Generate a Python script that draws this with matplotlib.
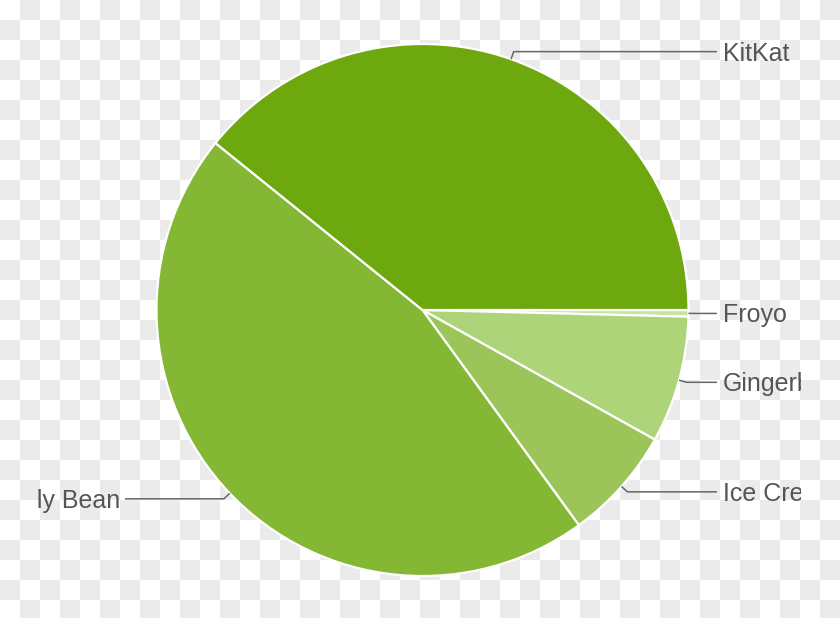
import numpy as np
import matplotlib
matplotlib.use("Agg")
import matplotlib.pyplot as plt
from matplotlib.transforms import Bbox, TransformedBbox

# Android platform versions, share of devices (%)
versions = ["Froyo", "Gingerbread", "Ice Cream Sandwich", "Jelly Bean", "KitKat"]
share = [0.4, 7.7, 6.9, 45.8, 39.2]
colors = ["#c6e3a0", "#aed47a", "#9bc558", "#84b734", "#6ca80e"]

W, H = 840, 618
fig = plt.figure(figsize=(W / 100, H / 100), dpi=100)

# checkerboard backdrop (transparent-image look)
checker = (np.arange(H)[:, None] // 20 + np.arange(W)[None, :] // 20) % 2
bg = np.where(checker[..., None] == 1, 235, 255) * np.ones(3) / 255
fig.figimage(bg, zorder=0)

ax = fig.add_axes([0, 0, 1, 1])
ax.set_zorder(1)

cx, cy, r = 422.5, H - 310, 266
wedges, _ = ax.pie(share, colors=colors, startangle=0, counterclock=False,
                   center=(cx, cy), radius=r,
                   wedgeprops=dict(edgecolor="white", linewidth=1.6))
ax.set_xlim(0, W)
ax.set_ylim(0, H)
ax.axis("off")

# labels get cut off, like in the original crop
clip = TransformedBbox(Bbox.from_extents(37, 0, 801, H), ax.transData)

for w, name in zip(wedges, versions):
    a = np.deg2rad((w.theta1 + w.theta2) / 2)
    x0, y0 = cx + r * np.cos(a), cy + r * np.sin(a)
    x1, y1 = cx + (r + 8) * np.cos(a), cy + (r + 8) * np.sin(a)
    right = np.cos(a) >= 0
    x2 = 717 if right else 125
    ax.plot([x0, x1, x2], [y0, y1, y1], color="#666666", lw=1.1,
            solid_capstyle="butt")
    t = ax.text(x2 + 6 if right else x2 - 5, y1 - 9, name,
                ha="left" if right else "right", va="baseline",
                fontsize=18, color="#555555", family="Liberation Sans")
    t.set_clip_box(clip)
    t.set_clip_on(True)

fig.savefig("out.png", dpi=100)
